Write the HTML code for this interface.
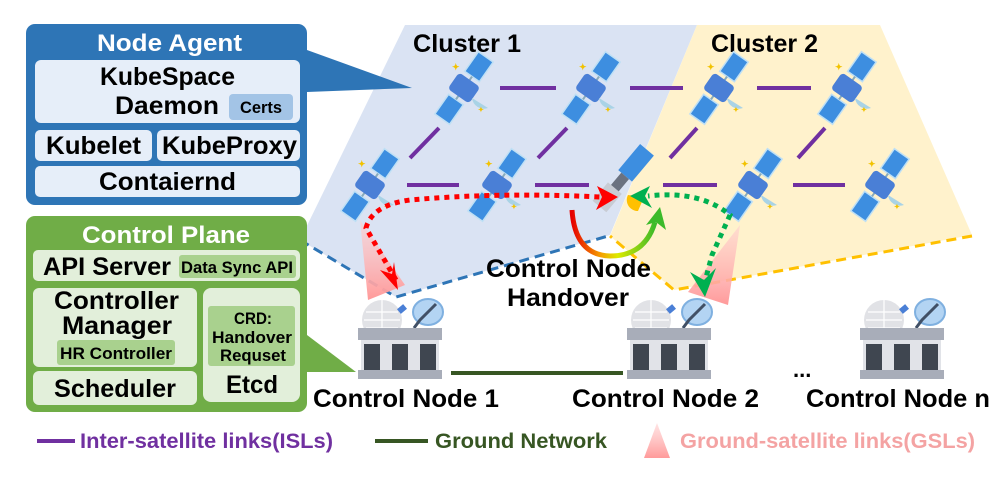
<!DOCTYPE html>
<html><head><meta charset="utf-8"><style>
html,body{margin:0;padding:0;background:#fff;}
svg{display:block;font-family:"Liberation Sans",sans-serif;font-weight:bold;}
</style></head><body>
<svg width="996" height="481" viewBox="0 0 996 481" xmlns="http://www.w3.org/2000/svg">
<defs>
<g id="sat">
  <g transform="rotate(-55)">
    <rect x="-38" y="-9" width="24" height="18" fill="#3d8ee0" stroke="#bfe0f5" stroke-width="1.5"/>
    <rect x="14" y="-9" width="24" height="18" fill="#3d8ee0" stroke="#bfe0f5" stroke-width="1.5"/>
    <line x1="-14" y1="0" x2="14" y2="0" stroke="#8ab" stroke-width="2"/>
  </g>
  <rect x="-13" y="-10" width="26" height="20" rx="4" fill="#4a7fd6" transform="rotate(35)"/>
  <path d="M8 10 a12 12 0 0 0 16 10 z" fill="#a9d3e6"/>
  <text x="-12" y="-18" font-size="9" fill="#f2c200">✦</text>
  <text x="14" y="24" font-size="7" fill="#f2c200">✦</text>
</g>
<g id="station">
  <circle cx="24" cy="22" r="20" fill="#e1e2e6"/>
  <path d="M24 2 V40 M6 22 H42 M8 14 H40 M8 30 H40" stroke="#fff" stroke-width="1.2"/>
  <rect x="40" y="8" width="8" height="6" fill="#4a7fd6" transform="rotate(-40 44 11)"/>
  <ellipse cx="70" cy="14" rx="15" ry="13" fill="#b3d4f3" stroke="#7fb0e0" stroke-width="2"/>
  <path d="M70 14 L78 6 M70 14 L62 22 L56 30" stroke="#415066" stroke-width="3"/>
  <rect x="0" y="30" width="84" height="12" fill="#a8adb9"/>
  <rect x="3" y="42" width="78" height="30" fill="#e1e3e8"/>
  <rect x="6" y="46" width="16" height="26" fill="#3f4650"/>
  <rect x="34" y="46" width="16" height="26" fill="#3f4650"/>
  <rect x="62" y="46" width="16" height="26" fill="#3f4650"/>
  <rect x="0" y="72" width="84" height="9" fill="#a8adb9"/>
</g>
<linearGradient id="rb" x1="0" y1="0" x2="1" y2="0">
  <stop offset="0" stop-color="#e60000"/><stop offset="0.35" stop-color="#f5a000"/><stop offset="0.55" stop-color="#dcea00"/><stop offset="1" stop-color="#3cba2a"/>
</linearGradient>
<linearGradient id="gsl" x1="0" y1="0" x2="0" y2="1">
  <stop offset="0" stop-color="#ffd0d0" stop-opacity="0.6"/><stop offset="1" stop-color="#ff9a9a"/>
</linearGradient>
</defs>

<path d="M405 25 H697 L610 235 L396 297 L300 240 Z" fill="#dae3f3"/>
<path d="M697 25 H880 L972 235 L674 290 L610 236 Z" fill="#fff2cc"/>
<path d="M300 240 L396 297 L608 236" fill="none" stroke="#2e75b6" stroke-width="3" stroke-dasharray="10 6"/>
<path d="M972 236 L674 290 L610 236" fill="none" stroke="#ffc000" stroke-width="3" stroke-dasharray="10 6"/>
<text x="413" y="52" font-size="25" textLength="108" lengthAdjust="spacingAndGlyphs" fill="#000">Cluster 1</text>
<text x="711" y="52" font-size="25" textLength="107" lengthAdjust="spacingAndGlyphs" fill="#000">Cluster 2</text>

<g stroke="#7030a0" stroke-width="4">
<line x1="500" y1="88" x2="556" y2="88"/><line x1="630" y1="88" x2="683" y2="88"/><line x1="757" y1="88" x2="811" y2="88"/>
<line x1="407" y1="185" x2="459" y2="185"/><line x1="535" y1="185" x2="589" y2="185"/><line x1="663" y1="185" x2="717" y2="185"/><line x1="793" y1="185" x2="845" y2="185"/>
<line x1="439" y1="128" x2="410" y2="158"/><line x1="567" y1="128" x2="538" y2="158"/><line x1="697" y1="128" x2="670" y2="158"/><line x1="825" y1="128" x2="798" y2="158"/>
</g>

<path d="M307 50 L412 88 L307 92 Z" fill="#2e75b6"/>
<path d="M307 335 L356 372 L307 372 Z" fill="#70ad47"/>

<use href="#sat" x="464" y="88"/><use href="#sat" x="591" y="88"/><use href="#sat" x="719" y="88"/><use href="#sat" x="847" y="88"/>
<use href="#sat" x="370" y="185"/><use href="#sat" x="497" y="185"/><use href="#sat" x="753" y="185"/><use href="#sat" x="880" y="185"/>
<g transform="translate(620,182) rotate(-50)">
  <rect x="-32" y="-9" width="24" height="18" fill="#c8ccd4"/>
  <rect x="8" y="-9" width="34" height="18" fill="#3d8ee0"/>
  <rect x="-8" y="-5" width="16" height="10" fill="#6b7280"/>
</g>
<path d="M628 195 a11 11 0 0 0 10 16 l6 -14 z" fill="#ffc000"/>

<path d="M360 220 L405 285 L368 300 Z" fill="url(#gsl)"/>
<path d="M740 225 L728 305 L688 292 Z" fill="url(#gsl)"/>

<path d="M396 280 L366 228 Q372 205 410 200 Q500 192 600 197" fill="none" stroke="#f00" stroke-width="5" stroke-dasharray="5 5"/>
<path d="M618 197 L597 186 L602 197 L596 210 Z" fill="#f00"/>
<path d="M398 290 L380 270 L392 274 L394 262 Z" fill="#f00"/>
<path d="M704 285 L712 255 L730 215 Q700 190 648 196" fill="none" stroke="#00b050" stroke-width="5" stroke-dasharray="5 5"/>
<path d="M630 196 L650 186 L645 196 L652 208 Z" fill="#00b050"/>
<path d="M705 297 L690 272 L704 280 L716 268 Z" fill="#00b050"/>
<path d="M572 210 Q575 255 610 256 Q645 256 655 222" fill="none" stroke="url(#rb)" stroke-width="5"/>
<path d="M660 207 L646 225 L656 222 L666 230 Z" fill="#3cba2a"/>

<text x="486" y="277" font-size="25" textLength="165" lengthAdjust="spacingAndGlyphs" fill="#000">Control Node</text>
<text x="507" y="306" font-size="25" textLength="122" lengthAdjust="spacingAndGlyphs" fill="#000">Handover</text>

<use href="#station" x="358" y="298"/><use href="#station" x="627" y="298"/><use href="#station" x="860" y="298"/>
<line x1="451" y1="373" x2="623" y2="373" stroke="#375623" stroke-width="4"/>
<text x="793" y="377" font-size="22" fill="#000">...</text>
<text x="313" y="407" font-size="25" textLength="186" lengthAdjust="spacingAndGlyphs" fill="#000">Control Node 1</text>
<text x="572" y="407" font-size="25" textLength="187" lengthAdjust="spacingAndGlyphs" fill="#000">Control Node 2</text>
<text x="806" y="407" font-size="25" textLength="184" lengthAdjust="spacingAndGlyphs" fill="#000">Control Node n</text>

<rect x="26" y="24" width="281" height="181" rx="9" fill="#2e75b6"/>
<text x="97" y="51" font-size="24" textLength="145" lengthAdjust="spacingAndGlyphs" fill="#fff">Node Agent</text>
<rect x="35" y="60" width="265" height="63" rx="6" fill="#e6eef9"/>
<text x="100" y="85" font-size="25" textLength="135" lengthAdjust="spacingAndGlyphs" fill="#000">KubeSpace</text>
<text x="115" y="114" font-size="25" textLength="104" lengthAdjust="spacingAndGlyphs" fill="#000">Daemon</text>
<rect x="229" y="94" width="64" height="26" rx="4" fill="#a3c4e6"/>
<text x="240" y="113" font-size="17" textLength="42" lengthAdjust="spacingAndGlyphs" fill="#000">Certs</text>
<rect x="35" y="130" width="117" height="31" rx="5" fill="#e6eef9"/>
<text x="46" y="154" font-size="25" textLength="95" lengthAdjust="spacingAndGlyphs" fill="#000">Kubelet</text>
<rect x="157" y="130" width="143" height="31" rx="5" fill="#e6eef9"/>
<text x="162" y="154" font-size="25" textLength="135" lengthAdjust="spacingAndGlyphs" fill="#000">KubeProxy</text>
<rect x="35" y="166" width="265" height="31" rx="5" fill="#e6eef9"/>
<text x="99" y="190" font-size="25" textLength="137" lengthAdjust="spacingAndGlyphs" fill="#000">Contaiernd</text>

<rect x="26" y="216" width="281" height="196" rx="9" fill="#70ad47"/>
<text x="82" y="243" font-size="24" textLength="168" lengthAdjust="spacingAndGlyphs" fill="#fff">Control Plane</text>
<rect x="33" y="250" width="267" height="31" rx="5" fill="#e2efda"/>
<text x="43" y="275" font-size="25" textLength="128" lengthAdjust="spacingAndGlyphs" fill="#000">API Server</text>
<rect x="179" y="255" width="117" height="23" rx="3" fill="#a9d18e"/>
<text x="181" y="273" font-size="17" textLength="112" lengthAdjust="spacingAndGlyphs" fill="#000">Data Sync API</text>
<rect x="33" y="288" width="164" height="79" rx="6" fill="#e2efda"/>
<text x="54" y="309" font-size="25" textLength="125" lengthAdjust="spacingAndGlyphs" fill="#000">Controller</text>
<text x="62" y="334" font-size="25" textLength="110" lengthAdjust="spacingAndGlyphs" fill="#000">Manager</text>
<rect x="57" y="340" width="118" height="25" rx="3" fill="#a9d18e"/>
<text x="60" y="359" font-size="17" textLength="112" lengthAdjust="spacingAndGlyphs" fill="#000">HR Controller</text>
<rect x="33" y="371" width="164" height="34" rx="6" fill="#e2efda"/>
<text x="54" y="397" font-size="25" textLength="122" lengthAdjust="spacingAndGlyphs" fill="#000">Scheduler</text>
<rect x="203" y="288" width="97" height="114" rx="8" fill="#e2efda"/>
<rect x="208" y="306" width="87" height="60" rx="3" fill="#a9d18e"/>
<text x="234" y="324" font-size="17" textLength="38" lengthAdjust="spacingAndGlyphs" fill="#000">CRD:</text>
<text x="212" y="343" font-size="17" textLength="80" lengthAdjust="spacingAndGlyphs" fill="#000">Handover</text>
<text x="220" y="361" font-size="17" textLength="66" lengthAdjust="spacingAndGlyphs" fill="#000">Requset</text>
<text x="226" y="393" font-size="25" textLength="52" lengthAdjust="spacingAndGlyphs" fill="#000">Etcd</text>

<line x1="37" y1="441" x2="75" y2="441" stroke="#7030a0" stroke-width="4"/>
<text x="80" y="448" font-size="21" fill="#7030a0" textLength="253" lengthAdjust="spacingAndGlyphs">Inter-satellite links(ISLs)</text>
<line x1="375" y1="441" x2="428" y2="441" stroke="#375623" stroke-width="4"/>
<text x="435" y="448" font-size="21" fill="#375623" textLength="172" lengthAdjust="spacingAndGlyphs">Ground Network</text>
<path d="M657 423 L670 458 L644 458 Z" fill="url(#gsl)"/>
<text x="680" y="448" font-size="21" fill="#f4a3a3" textLength="295" lengthAdjust="spacingAndGlyphs">Ground-satellite links(GSLs)</text>
</svg>
</body></html>
